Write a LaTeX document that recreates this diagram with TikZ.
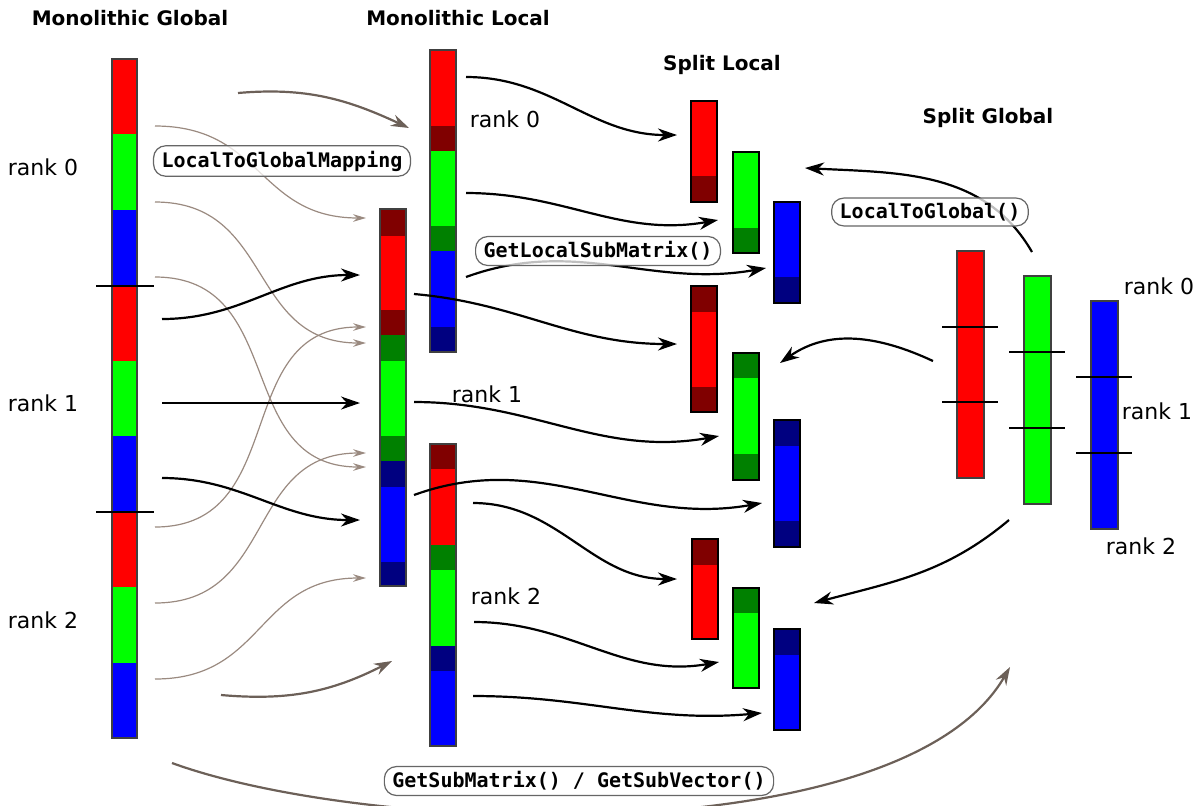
\documentclass[tikz,border=0pt]{standalone}
\usepackage{fontspec}
\setmainfont{DejaVu Sans}
\setmonofont{DejaVu Sans Mono}
\usepackage{tikz}
\usetikzlibrary{arrows.meta}
\definecolor{dred}{RGB}{128,0,0}
\definecolor{dgreen}{RGB}{0,128,0}
\definecolor{dblue}{RGB}{0,0,128}
\definecolor{mapbrown}{RGB}{154,138,128}
\definecolor{subbrown}{RGB}{108,96,88}
\tikzstyle{gbar}=[draw=black!75, line width=0.6pt]
\tikzstyle{sbar}=[draw=black, line width=1.4pt]
\tikzstyle{cutline}=[draw=black, line width=0.6pt]
\tikzstyle{moveline}=[draw=black, line width=1.1pt, -{Stealth[length=9.5pt,width=6.5pt,inset=3pt]}]
\tikzstyle{mapline}=[draw=mapbrown, line width=0.6pt, -{Stealth[length=6.5pt,width=3.8pt,inset=2.2pt]}]
\tikzstyle{subline}=[draw=subbrown, line width=1.1pt, -{Stealth[length=9pt,width=6pt,inset=3pt]}]
\tikzstyle{headline}=[font=\bfseries\fontsize{10}{12}\selectfont]
\tikzstyle{ranklabel}=[font=\fontsize{11}{13}\selectfont]
\tikzstyle{call}=[draw=black!60, line width=0.6pt, rounded corners=6pt, fill=white, fill opacity=0.75, text opacity=1, inner xsep=4pt, inner ysep=2.5pt, font=\ttfamily\bfseries\fontsize{10}{12}\selectfont]

\begin{document}
\begin{tikzpicture}[x=0.5pt, y=-0.5pt]
  \useasboundingbox (0,0) rectangle (1204,805);

  \def\w{26};

  % monolithic global
  \foreach \c [count=\i from 0] in {red,green,blue,red,green,blue,red,green,blue}
     \fill[\c] (112, 59+\i*75.44) rectangle (137, 134.44+\i*75.44);
  \draw[gbar] (112,59) rectangle (137,738);
  \foreach \y in {286,512}
     \draw[cutline] (96,\y) -- (154,\y);

  % monolithic local
  \foreach \x/\ya/\yb/\c in {430/50/126/red, 430/126/151/dred, 430/151/226/green, 430/226/251/dgreen, 430/251/327/blue, 430/327/352/dblue,
     380/209/236/dred, 380/236/310/red, 380/310/335/dred, 380/335/361/dgreen, 380/361/436/green, 380/436/461/dgreen, 380/461/487/dblue, 380/487/562/blue, 380/562/586/dblue,
     430/444/469/dred, 430/469/545/red, 430/545/570/dgreen, 430/570/646/green, 430/646/671/dblue, 430/671/746/blue}
     \fill[\c] (\x,\ya) rectangle (\x+\w,\yb);
  \foreach \x/\ya/\yb in {430/50/352, 380/209/586, 430/444/746}
     \draw[gbar] (\x,\ya) rectangle (\x+\w,\yb);

  % split local
  \foreach \x/\ya/\yb/\c in {691/101/176/red, 691/176/202/dred, 733/152/228/green, 733/228/253/dgreen, 774/202/277/blue, 774/277/303/dblue,
     691/286/312/dred, 691/312/387/red, 691/387/412/dred, 733/353/378/dgreen, 733/378/454/green, 733/454/480/dgreen, 774/420/446/dblue, 774/446/521/blue, 774/521/547/dblue,
     692/539/565/dred, 692/565/639/red, 733/588/613/dgreen, 733/613/688/green, 774/629/655/dblue, 774/655/730/blue}
     \fill[\c] (\x,\ya) rectangle (\x+\w,\yb);
  \foreach \x/\ya/\yb in {691/101/202, 733/152/253, 774/202/303, 691/286/412, 733/353/480, 774/420/547, 692/539/639, 733/588/688, 774/629/730}
     \draw[sbar] (\x,\ya) rectangle (\x+\w,\yb);

  % split global
  \foreach \x/\ya/\yb/\c in {957/251/478/red, 1024/276/504/green, 1091/301/529/blue}
     \draw[gbar, fill=\c] (\x,\ya) rectangle (\x+27,\yb);
  \foreach \x/\y in {942/327, 942/402, 1009/352, 1009/428, 1076/377, 1076/453}
     \draw[cutline] (\x,\y) -- (\x+56,\y);

  % end points
  \foreach \n/\x/\y in {ga1/155/126, ga2/155/202, ga3/155/277, gc1/155/527, gc2/155/603, gc3/155/679,
     mb1/366/218, mb2/366/343, mb3/366/467, mb4/366/327, mb5/366/453, mb6/366/578,
     gb1/162/319, gb2/162/403, gb3/162/478, mm1/360/275, mm2/360/403, mm3/360/520,
     sa/238/93, sb/409/128, sc/221/695, sd/392/661, se/172/763, sf/1010/667,
     l0a/466/77, l0b/466/193, l0c/466/277, l1a/414/294, l1b/414/402, l1c/414/495, l2a/473/503, l2b/474/622, l2c/473/696,
     s0a/677/135, s0b/718/220, s0c/766/268, s1a/677/344, s1b/719/436, s1c/762/503, s2a/677/579, s2b/719/662, s2c/762/713,
     gg0/1032/252, gg1/933/361, gg2/1009/520, sl0/805/168, sl1/780/363, sl2/814/603}
     \coordinate (\n) at (\x,\y);

  % local to global mapping
  \foreach \source/\dest in {ga1/mb1, ga2/mb2, ga3/mb3, gc1/mb4, gc2/mb5, gc3/mb6}
     \draw[mapline] (\source) to[out=0, in=180, looseness=1.2] (\dest);
  \foreach \source/\dest in {gb1/mm1, gb3/mm3}
     \draw[moveline] (\source) to[out=0, in=180] (\dest);
  \draw[moveline] (gb2) -- (mm2);

  \draw[subline] (sa) to[out=5, in=155] (sb);
  \draw[subline] (sc) to[out=-5, in=207] (sd);
  \draw[subline] (se) to[out=-20, in=240, looseness=0.65] (sf);

  % local sub matrix
  \foreach \source/\dest/\o/\i in {l0a/s0a/0/180, l0b/s0b/0/190, l0c/s0c/20/190, l1a/s1a/-5/180, l1b/s1b/0/190, l1c/s1c/20/190, l2a/s2a/0/180, l2b/s2b/0/190, l2c/s2c/0/185}
     \draw[moveline] (\source) to[out=\o, in=\i] (\dest);

  % split global back
  \draw[moveline] (gg0) to[out=120, in=-3] (sl0);
  \draw[moveline] (gg1) to[out=155, in=35] (sl1);
  \draw[moveline] (gg2) to[out=220, in=15] (sl2);

  \node[call] (l2gmap) at (282,161) {LocalToGlobalMapping};
  \node[call] (getlocal) at (598,251) {GetLocalSubMatrix()};
  \node[call] (l2g) at (930,212) {LocalToGlobal()};
  \node[call] (getsub) at (579,781) {GetSubMatrix() / GetSubVector()};

  \node[headline] (hmg) at (130,18) {Monolithic Global};
  \node[headline] (hml) at (458,18) {Monolithic Local};
  \node[headline] (hsl) at (722,65) {Split Local};
  \node[headline] (hsg) at (988,118) {Split Global};

  \foreach \n/\x/\y/\r in {ra0/43/167/0, ra1/43/403/1, ra2/43/620/2, rb0/505/119/0, rb1/487/394/1, rb2/506/596/2, rc0/1159/286/0, rc1/1157/411/1, rc2/1141/546/2}
     \node[ranklabel] (\n) at (\x,\y) {rank \r};

\end{tikzpicture}
\end{document}
